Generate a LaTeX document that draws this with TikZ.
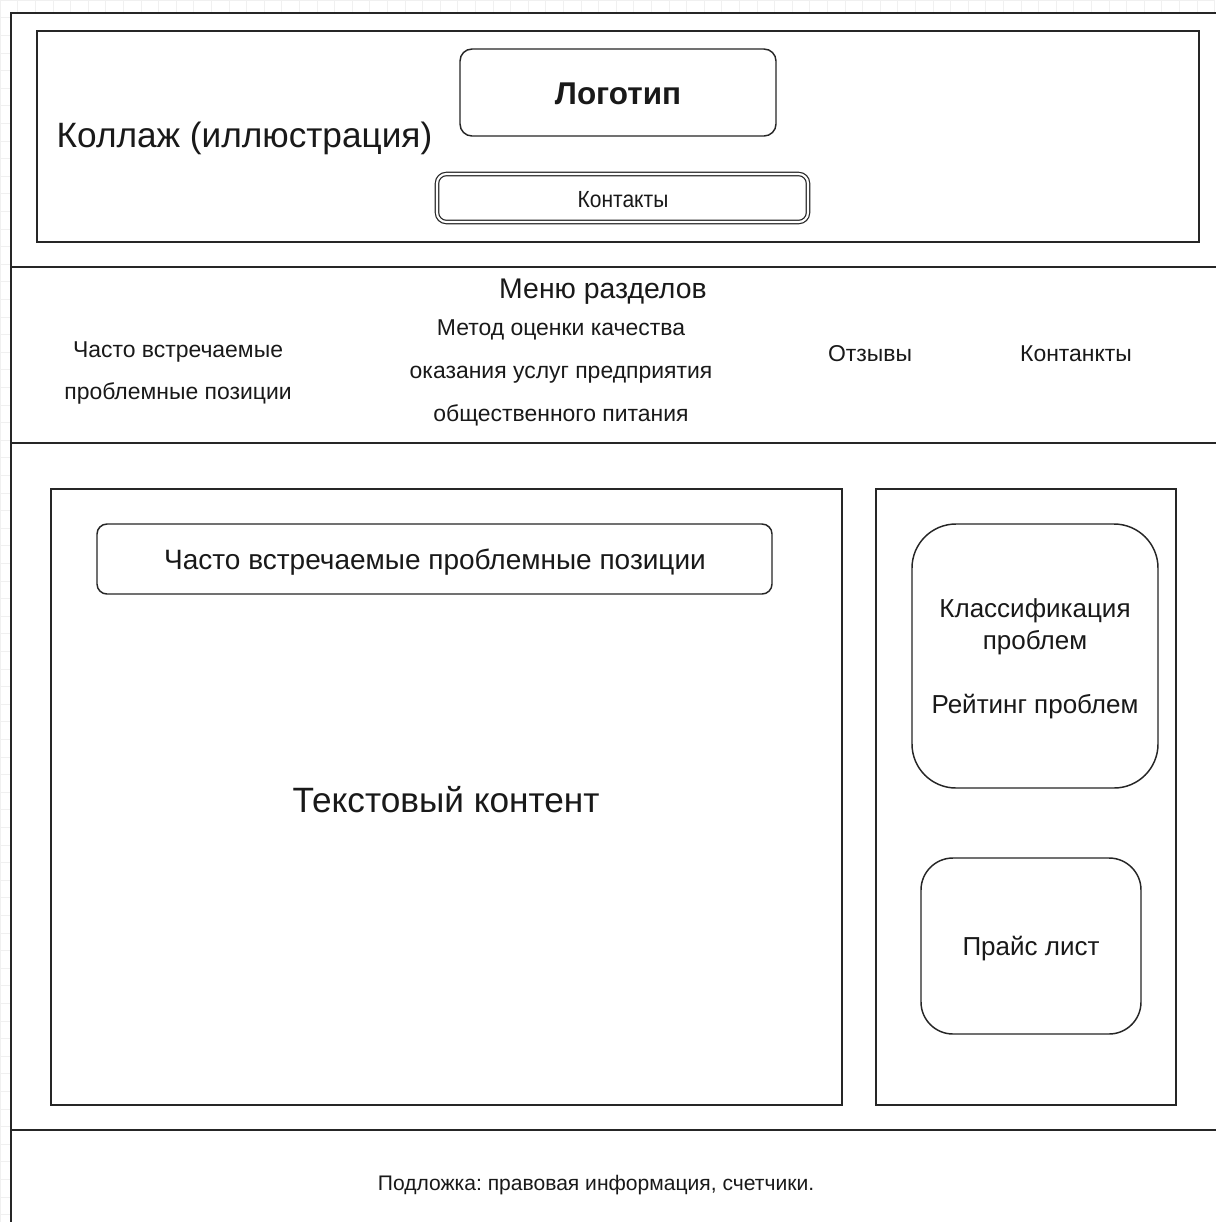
\documentclass[tikz,border=0pt]{standalone}
\usepackage{fontspec}
\setmainfont{Liberation Sans}
\newfontfamily\narrowf[FakeStretch=0.9]{Liberation Sans}
\frenchspacing
\begin{document}
\begin{tikzpicture}[x=0.75pt,y=-0.75pt,
  line width=1pt,
  frame/.style={draw=black!85,fill=white,line width=1.1pt,inner sep=0pt},
  rbox/.style={frame,rounded corners=#1},
  rbox/.default=9pt,
  txt/.style={inner sep=0pt,align=center,text=black!90},
]
\useasboundingbox (0,0) rectangle (1215,1222);
% background grid
\foreach \i in {0,...,70} {
  \draw[black!6,line width=0.4pt] ({\i*17.6},0) -- ({\i*17.6},1222);
  \draw[black!6,line width=0.4pt] (0,{\i*17.6}) -- (1215,{\i*17.6});
}
% outer page frame
\fill[white] (11,13) rectangle (1240,1240);
\draw[black!85,line width=1.1pt] (11,1240) -- (11,13) -- (1240,13);
\draw[black!85,line width=1.1pt] (11,267) -- (1240,267);
\draw[black!85,line width=1.1pt] (11,443) -- (1240,443);
\draw[black!85,line width=1.1pt] (11,1130) -- (1240,1130);

% header
\node[frame,minimum width=871.5pt,minimum height=158.25pt] (header) at (618,136.5) {};
\node[txt,font=\fontsize{26.4pt}{30pt}\selectfont] (collage) at (244.5,138.5) {Коллаж (иллюстрация)};
\node[rbox=9pt,minimum width=237pt,minimum height=65.25pt] (logo) at (618,92.5) {};
\node[txt,font=\bfseries\fontsize{23.6pt}{26pt}\selectfont] (logotxt) at (618,94) {Логотип};
\node[frame,rounded corners=7pt,double=white,double distance=1.6pt,line width=0.9pt,minimum width=278.25pt,minimum height=36pt] (contacts) at (622.5,198) {};
\node[txt,font=\narrowf\fontsize{17.5pt}{20pt}\selectfont] (contxt) at (623,199.5) {Контакты};

% menu
\node[txt,font=\fontsize{21.3pt}{24pt}\selectfont] (menu) at (603,291.5) {Меню разделов};
\node[txt,font=\fontsize{17.2pt}{32.2pt}\selectfont] (m1) at (178,373) {Часто встречаемые\\проблемные позиции};
\node[txt,font=\fontsize{17.2pt}{32pt}\selectfont] (m2) at (561,373) {Метод оценки качества\\оказания услуг предприятия\\общественного питания};
\node[txt,font=\fontsize{17.2pt}{20pt}\selectfont] (m3) at (870,353.5) {Отзывы};
\node[txt,font=\fontsize{17.2pt}{20pt}\selectfont] (m4) at (1076,353.5) {Контанкты};

% main content
\node[frame,minimum width=593.25pt,minimum height=462pt] (main) at (446.5,797) {};
\node[rbox=7.5pt,minimum width=506.25pt,minimum height=52.5pt] (title) at (434.5,559) {};
\node[txt,font=\fontsize{21pt}{24pt}\selectfont] (titletxt) at (435,562) {Часто встречаемые проблемные позиции};
\node[txt,font=\fontsize{26.4pt}{30pt}\selectfont] (content) at (446,800) {Текстовый контент};

% sidebar
\node[frame,minimum width=225pt,minimum height=462pt] (side) at (1026,797) {};
\node[rbox=33pt,minimum width=184.5pt,minimum height=198pt] (classif) at (1035,656) {};
\node[txt,font=\fontsize{19.5pt}{24pt}\selectfont] (classtxt) at (1035,659) {Классификация\\проблем\\[24pt]Рейтинг проблем};
\node[rbox=24pt,minimum width=165pt,minimum height=132pt] (price) at (1031,946) {};
\node[txt,font=\fontsize{19.5pt}{24pt}\selectfont] (pricetxt) at (1031,949) {Прайс лист};

% footer
\node[txt,font=\fontsize{15.8pt}{18pt}\selectfont] (footer) at (596,1185) {Подложка: правовая информация, счетчики.};
\end{tikzpicture}
\end{document}
